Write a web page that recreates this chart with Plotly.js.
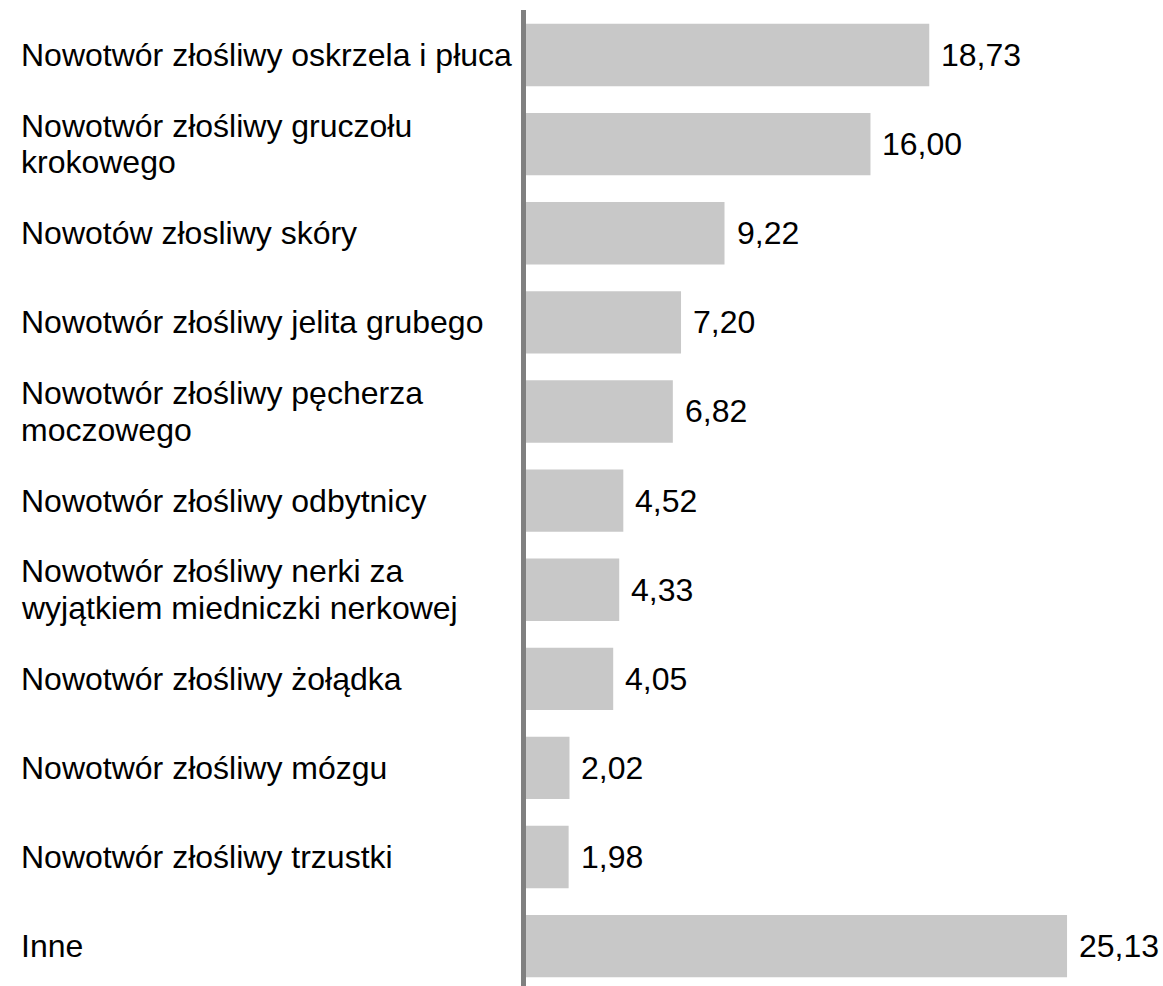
<!DOCTYPE html>
<html>
<head>
<meta charset="utf-8">
<script src="https://cdn.plot.ly/plotly-3.0.1.min.js"></script>
<style>html,body{margin:0;padding:0;background:#fff}#chart{width:1163px;height:986px}</style>
</head>
<body>
<div id="chart"></div>
<script>
const categories = [
  "Nowotwór złośliwy oskrzela i płuca",
  "Nowotwór złośliwy gruczołu<br>krokowego",
  "Nowotów złosliwy skóry",
  "Nowotwór złośliwy jelita grubego",
  "Nowotwór złośliwy pęcherza<br>moczowego",
  "Nowotwór złośliwy odbytnicy",
  "Nowotwór złośliwy nerki za<br>wyjątkiem miedniczki nerkowej",
  "Nowotwór złośliwy żołądka",
  "Nowotwór złośliwy mózgu",
  "Nowotwór złośliwy trzustki",
  "Inne"
];
const values = [18.73, 16.00, 9.22, 7.20, 6.82, 4.52, 4.33, 4.05, 2.02, 1.98, 25.13];

const W = 1163, H = 986;
const margin = {l: 526, r: 0, t: 10, b: 0};
const plotW = W - margin.l - margin.r;
const FONT = "Liberation Sans, Arial, sans-serif";
const FS = 32;
const LINE = 36.7;

const ids = categories.map((c, i) => i);
const fmt = v => v.toFixed(2).replace('.', ',');

const annotations = [];
categories.forEach((c, i) => {
  const lines = c.split('<br>');
  lines.forEach((ln, k) => {
    annotations.push({
      xref: 'paper', yref: 'y',
      x: (19 - margin.l) / plotW, y: i,
      yshift: -(k - (lines.length - 1) / 2) * LINE,
      text: ln, showarrow: false,
      xanchor: 'left', yanchor: 'middle', align: 'left',
      font: {family: FONT, size: FS, color: '#000'}
    });
  });
  annotations.push({
    xref: 'x', yref: 'y',
    x: values[i], y: i,
    text: fmt(values[i]), showarrow: false,
    xanchor: 'left', yanchor: 'middle', xshift: 10,
    font: {family: FONT, size: FS, color: '#000'}
  });
});

const trace = {
  type: 'bar',
  orientation: 'h',
  x: values,
  y: ids,
  marker: {color: '#c8c8c8', line: {width: 0}},
  hoverinfo: 'none'
};

const layout = {
  width: W, height: H,
  margin: margin,
  paper_bgcolor: '#fff', plot_bgcolor: '#fff',
  bargap: 0.3,
  showlegend: false,
  xaxis: {range: [0, plotW / 21.53], visible: false, showgrid: false, zeroline: false, fixedrange: true},
  yaxis: {
    range: [10.447, -0.505],
    showline: true, linecolor: '#808080', linewidth: 5,
    showticklabels: false, ticks: '', showgrid: false, zeroline: false, fixedrange: true
  },
  annotations: annotations,
  font: {family: FONT, size: FS}
};

Plotly.newPlot('chart', [trace], layout, {displayModeBar: false, staticPlot: true});
</script>
</body>
</html>
